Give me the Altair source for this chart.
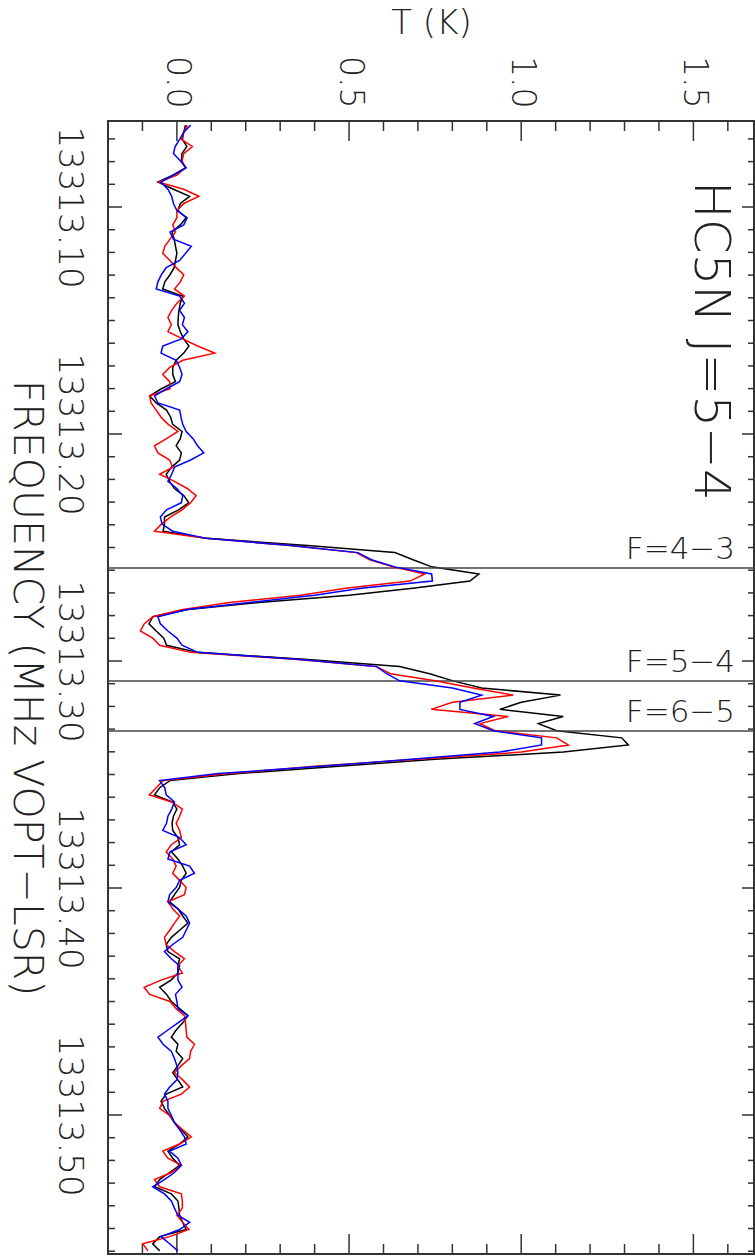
import altair as alt
import pandas as pd

# channel grid of the spectrum (MHz)
F0 = 13313.06392
DF = 0.0031388

T_BLACK = [
    0.025, 0.02, 0.016, 0.029, 0.015, 0.013, 0.025, -0.01, -0.055, -0.01,
    0.037, 0.01, 0.003, 0.027, 0.01, -0.014, -0.008, -0.004, 0.0, -0.004,
    -0.008, -0.02, -0.035, -0.041, 0.017, 0.01, 0.006, 0.004, 0.003, 0.01,
    0.02, 0.035, 0.02, -0.002, -0.012, -0.012, -0.004, -0.045, -0.079, -0.06,
    -0.03, -0.018, -0.012, 0.015, 0.01, -0.002, 0.013, 0.008, -0.015, -0.031,
    -0.021, -0.007, 0.02, 0.035, 0.005, -0.036, -0.036, -0.04, 0.085, 0.38,
    0.633, 0.686, 0.74, 0.877, 0.851, 0.685, 0.5, 0.238, 0.032, -0.07,
    -0.081, -0.06, -0.038, -0.03, 0.06, 0.38, 0.647, 0.734, 0.802, 0.885,
    1.114, 1.0, 0.938, 1.122, 1.05, 1.103, 1.292, 1.311, 1.122, 0.75,
    0.47, 0.18, -0.02, -0.05, -0.065, -0.012, 0.0, -0.01, -0.014, -0.012,
    0.003, 0.008, -0.016, 0.003, 0.017, 0.027, 0.013, 0.008, -0.007, -0.021,
    0.003, 0.017, 0.032, 0.008, -0.016, -0.031, -0.026, 0.008, 0.003, 0.003,
    -0.017, -0.05, -0.03, -0.016, 0.008, 0.032, 0.017, -0.002, -0.016, 0.003,
    -0.002, 0.017, 0.003, -0.012, 0.003, 0.017, -0.031, -0.046, -0.036, -0.021,
    -0.007, 0.013, 0.032, 0.008, -0.026, -0.012, 0.008, -0.021, -0.05, -0.065,
    -0.016, 0.003, 0.006, 0.008, 0.017, 0.027, -0.05, -0.07, -0.05,
]

T_RED = [
    0.03, 0.02, 0.013, 0.045, 0.02, 0.015, 0.025, 0.0, -0.052, 0.02,
    0.064, 0.02, 0.0, 0.0, -0.012, -0.004, -0.02, -0.035, -0.041, -0.02,
    -0.002, 0.02, 0.01, -0.007, 0.022, 0.0, -0.015, -0.026, -0.016, -0.026,
    0.017, 0.06, 0.11, 0.017, -0.021, -0.041, -0.021, -0.02, -0.079, -0.075,
    -0.06, -0.046, -0.025, 0.003, -0.03, -0.065, -0.055, -0.021, -0.012, -0.05,
    -0.007, 0.03, 0.056, 0.04, 0.015, -0.018, -0.045, -0.065, 0.085, 0.33,
    0.521, 0.56, 0.628, 0.72, 0.677, 0.49, 0.36, 0.153, 0.013, -0.07,
    -0.095, -0.106, -0.07, -0.05, 0.04, 0.35, 0.58, 0.62, 0.75, 0.86,
    0.977, 0.8, 0.739, 0.962, 0.88, 0.924, 1.103, 1.137, 1.0, 0.7,
    0.4, 0.15, -0.04, -0.06, -0.08, -0.015, 0.016, 0.008, -0.002, 0.008,
    0.013, -0.016, -0.031, -0.012, -0.002, -0.012, 0.008, 0.027, 0.022, -0.026,
    -0.012, 0.008, -0.007, -0.021, -0.036, -0.031, -0.007, 0.022, 0.003, 0.016,
    -0.046, -0.095, -0.079, -0.02, -0.002, 0.022, 0.025, 0.027, 0.029, 0.051,
    0.04, 0.037, 0.013, -0.007, 0.017, 0.037, 0.013, -0.04, -0.05, -0.021,
    -0.007, 0.017, 0.042, 0.008, -0.041, -0.026, 0.013, -0.016, -0.065, -0.05,
    0.013, 0.016, 0.016, 0.0, 0.017, 0.035, -0.021, -0.099, -0.084,
]

T_BLUE = [
    0.04, 0.02, 0.008, -0.005, -0.01, 0.01, 0.027, -0.01, -0.046, -0.026,
    -0.015, -0.01, 0.0, 0.03, 0.02, -0.02, -0.01, 0.042, 0.025, 0.008,
    -0.031, -0.045, -0.055, -0.06, 0.008, 0.022, 0.008, 0.022, 0.016, 0.032,
    0.013, -0.041, -0.046, -0.002, 0.008, 0.015, 0.008, -0.03, -0.065, -0.055,
    0.008, 0.012, 0.017, 0.027, 0.047, 0.06, 0.078, 0.04, -0.007, -0.015,
    -0.026, 0.0, 0.017, 0.013, -0.03, -0.048, -0.043, -0.012, 0.085, 0.33,
    0.526, 0.565, 0.633, 0.74, 0.742, 0.535, 0.4, 0.21, 0.03, -0.055,
    -0.048, -0.026, 0.0, 0.015, 0.06, 0.36, 0.58, 0.609, 0.647, 0.8,
    0.885, 0.822, 0.822, 0.919, 0.865, 0.919, 1.059, 1.059, 0.938, 0.68,
    0.42, 0.12, -0.05, -0.035, -0.031, -0.007, -0.015, -0.026, -0.03, -0.041,
    0.008, 0.027, -0.02, -0.026, 0.037, 0.051, 0.008, -0.002, -0.021, -0.026,
    0.003, 0.027, 0.037, 0.027, 0.017, -0.012, -0.036, -0.016, 0.008, 0.003,
    0.003, 0.015, -0.004, 0.0, 0.003, 0.032, 0.003, -0.026, -0.055, -0.04,
    -0.016, -0.007, 0.0, 0.003, 0.0, -0.021, -0.036, -0.026, -0.026, -0.016,
    -0.007, 0.008, 0.022, 0.027, -0.021, 0.003, 0.013, -0.007, -0.036, -0.07,
    -0.036, -0.016, -0.007, 0.003, 0.037, 0.008, -0.046, -0.021, 0.003,
]

# hyperfine component markers
F_LINES = [13313.2590, 13313.3088, 13313.3308]
F_LABELS = ["F=4\u22123", "F=5\u22124", "F=6\u22125"]

# axis ticks
T_LABEL_VALUES = [0.0, 0.5, 1.0, 1.5]
T_MINOR = [-0.1, 0.1, 0.2, 0.3, 0.4, 0.6, 0.7, 0.8, 0.9, 1.1, 1.2, 1.3, 1.4, 1.6]
F_MAJOR = [13313.10, 13313.20, 13313.30, 13313.40, 13313.50]
F_MINOR = [round(13313.07 + 0.01 * k, 2) for k in range(50)]
F_MINOR = [v for v in F_MINOR if v not in F_MAJOR]

W, H = 646, 1133
FONT = "DejaVu Sans"
TXT = "#222222"
FRAME = "#333333"

xs = alt.Scale(domain=[-0.2, 1.676], nice=False, zero=False)
ys = alt.Scale(domain=[13313.06211, 13313.56123], reverse=True, nice=False, zero=False)

x_axis = alt.Axis(
    orient="top", values=T_LABEL_VALUES, format=".1f", labelAngle=90,
    labelAlign="right", labelBaseline="middle", labelPadding=13,
    labelFont=FONT, labelFontSize=33, labelColor=TXT, labelFontWeight=200,
    labelFlush=False, labelOverlap=False, ticks=False, domain=False, grid=False,
    title="T (K)", titleFont=FONT, titleFontSize=34, titleFontWeight=200,
    titleColor=TXT, titleX=W / 2, titleY=-88, titleAlign="center",
    titleBaseline="alphabetic", titleAngle=0,
)
y_axis = alt.Axis(
    orient="left", values=F_MAJOR, format=".2f", labelAngle=90,
    labelAlign="center", labelBaseline="top", labelPadding=23,
    labelFont=FONT, labelFontSize=34, labelColor=TXT, labelFontWeight=200,
    labelFlush=False, labelOverlap=False, ticks=False, domain=False, grid=False,
    title="FREQUENCY (MHz VOPT\u2212LSR)", titleFont=FONT, titleFontSize=41,
    titleFontWeight=200, titleColor=TXT, titleX=-95, titleY=H / 2,
    titleAlign="center", titleBaseline="alphabetic", titleAngle=90,
)

X = lambda: alt.X("T:Q", scale=xs, axis=x_axis)
Y = lambda: alt.Y("f:Q", scale=ys, axis=y_axis)

n = len(T_BLACK)
freq = [F0 + DF * i for i in range(n)]


def series(vals, color):
    df = pd.DataFrame({"i": list(range(n)), "f": freq, "T": vals})
    return alt.Chart(df).mark_line(color=color, strokeWidth=1.5, clip=True).encode(
        x=X(), y=Y(), order="i:Q")


df_tmin = pd.DataFrame({"T": T_MINOR})
df_tmaj = pd.DataFrame({"T": T_LABEL_VALUES})
df_fmin = pd.DataFrame({"f": F_MINOR})
df_fmaj = pd.DataFrame({"f": F_MAJOR})


def tick_x(df, y0, y1):
    return alt.Chart(df).mark_rule(color=FRAME, strokeWidth=1.5).encode(
        x=X(), y=alt.value(y0), y2=alt.value(y1))


def tick_y(df, x0, x1):
    return alt.Chart(df).mark_rule(color=FRAME, strokeWidth=1.5).encode(
        y=Y(), x=alt.value(x0), x2=alt.value(x1))


ticks = [
    tick_x(df_tmin, 0, 10), tick_x(df_tmaj, 0, 20),
    tick_x(df_tmin, H, H - 10), tick_x(df_tmaj, H, H - 20),
    tick_y(df_fmin, 0, 7), tick_y(df_fmaj, 0, 14),
    tick_y(df_fmin, W, W - 6), tick_y(df_fmaj, W, W - 12),
]

df_lines = pd.DataFrame({"f": F_LINES, "label": F_LABELS, "T": [1.621] * 3})
f_rules = alt.Chart(df_lines).mark_rule(color="#444444", strokeWidth=1.5).encode(y=Y())
f_text = alt.Chart(df_lines).mark_text(
    align="right", baseline="alphabetic", dy=-9, font=FONT, fontSize=31,
    fontWeight=200, color=TXT,
).encode(x=X(), y=Y(), text="label:N")

df_title = pd.DataFrame({"T": [1.505], "f": [13313.1590], "label": ["HC5N J=5\u22124"]})
title_text = alt.Chart(df_title).mark_text(
    align="center", baseline="alphabetic", angle=90, font=FONT, fontSize=50,
    fontWeight=200, color=TXT,
).encode(x=X(), y=Y(), text="label:N")

chart = alt.layer(
    series(T_BLACK, "#000000"),
    *ticks,
    f_rules,
    series(T_RED, "#ff0000"),
    series(T_BLUE, "#0000ff"),
    f_text,
    title_text,
).properties(
    width=W, height=H,
    autosize=alt.AutoSizeParams(type="none"),
    padding={"left": 108, "top": 121, "right": 1, "bottom": 3},
).configure_view(stroke=FRAME, strokeWidth=2)

chart.save("out.html", embed_options={"renderer": "svg", "actions": False})
